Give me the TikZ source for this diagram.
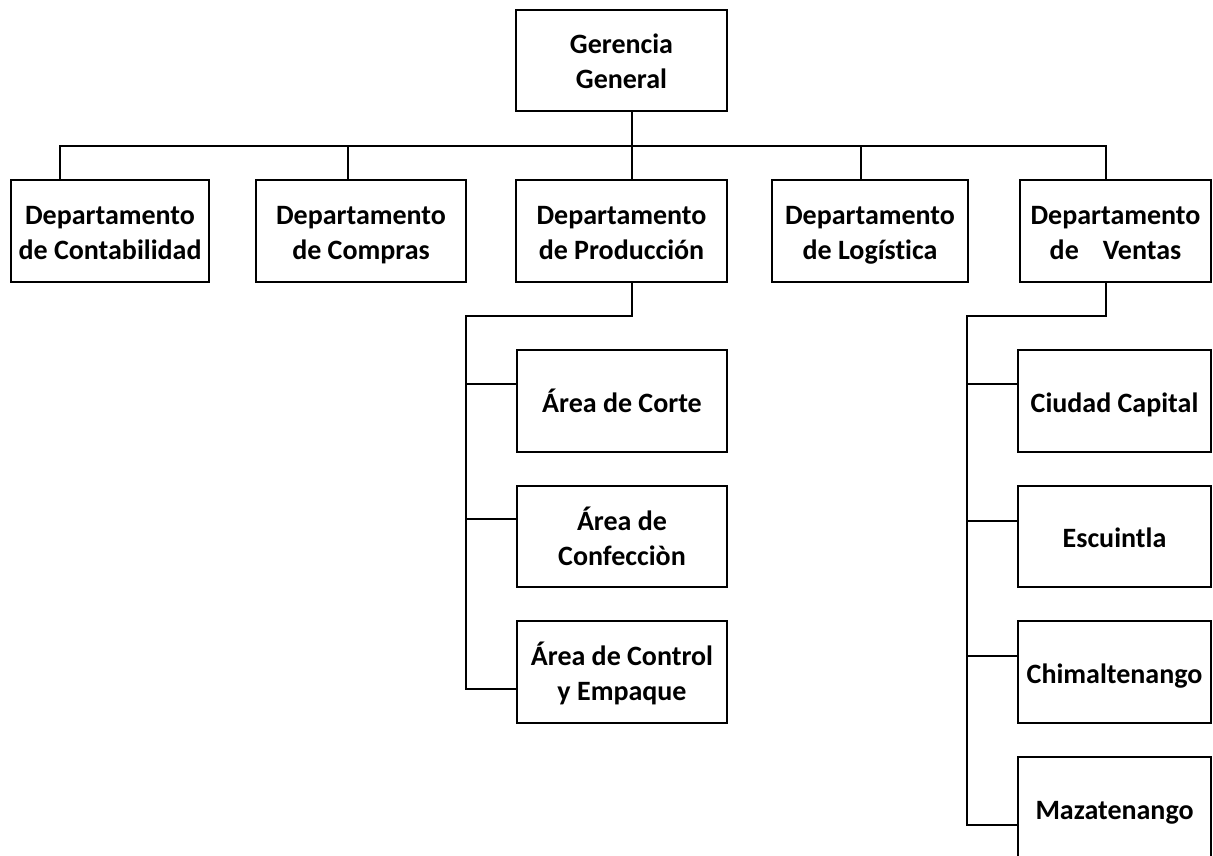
\documentclass[tikz,border=0pt]{standalone}
\usepackage{fontspec}
\setmainfont{Carlito}[Ligatures=CommonOff]
\usetikzlibrary{calc}
\newcommand\orgstrut{\rule[-6.5pt]{0pt}{35pt}}
\tikzset{
    OrgBox/.style={draw=black, line width=2.8pt, inner sep=0pt, align=center,
        font=\fontsize{28}{35}\selectfont\bfseries},
    DeptBox/.style={OrgBox, minimum height=102pt},
    OrgLine/.style={draw=black, line width=2.8pt}
}

\begin{document}
\begin{tikzpicture}[x=1pt, y=-1pt]
    \useasboundingbox (0,0) rectangle (1213,856);
    \clip (0,0) rectangle (1213,856);

    % gerencia
    \node[OrgBox, minimum width=211pt, minimum height=101pt] (gg) at (621.5, 60.5) {Gerencia\orgstrut\\General\orgstrut};

    % departamentos
    \node[DeptBox, minimum width=198pt] (cont) at (110, 231) {Departamento\orgstrut\\de Contabilidad\orgstrut};
    \node[DeptBox, minimum width=210pt] (comp) at (361, 231) {Departamento\orgstrut\\de Compras\orgstrut};
    \node[DeptBox, minimum width=211pt] (prod) at (621.5, 231) {Departamento\orgstrut\\de Producción\orgstrut};
    \node[DeptBox, minimum width=196pt] (logi) at (870, 231) {Departamento\orgstrut\\de Logística\orgstrut};
    \node[DeptBox, minimum width=191pt] (vent) at (1115.5, 231) {Departamento\orgstrut\\de\hspace{24pt}Ventas\orgstrut};

    % areas de produccion
    \node[DeptBox, minimum width=210pt] (corte) at (622, 401) {Área de Corte\orgstrut};
    \node[DeptBox, minimum width=210pt, minimum height=101pt] (confe) at (622, 536.5) {Área de\orgstrut\\Confecciòn\orgstrut};
    \node[DeptBox, minimum width=210pt] (ctrl) at (622, 672) {Área de Control\orgstrut\\y Empaque\orgstrut};

    % zonas de ventas
    \node[DeptBox, minimum width=193pt] (ciud) at (1114.5, 401) {Ciudad Capital\orgstrut};
    \node[DeptBox, minimum width=193pt, minimum height=101pt] (escu) at (1114.5, 536.5) {Escuintla\orgstrut};
    \node[DeptBox, minimum width=193pt] (chim) at (1114.5, 672) {Chimaltenango\orgstrut};
    \node[DeptBox, minimum width=193pt] (maza) at (1114.5, 808) {Mazatenango\orgstrut};

    % lineas de mando
    \coordinate (bus) at (632, 146);
    \draw[OrgLine] ([xshift=10.5pt]gg.south) -- (bus);
    \draw[OrgLine] ([xshift=-50pt]cont.north) |- (bus) -| ([xshift=-9.5pt]vent.north);
    \foreach \n/\dx in {comp/-13, prod/10.5, logi/-9} {
        \draw[OrgLine] ([xshift=\dx pt]\n.north) -- ++(0,-34);
    }

    \coordinate (pbus) at (466, 316);
    \draw[OrgLine] ([xshift=10.5pt]prod.south) |- (pbus) |- ([yshift=-17pt]ctrl.west);
    \draw[OrgLine] ([yshift=17pt]corte.west) -- ++(-51,0);
    \draw[OrgLine] ([yshift=17.5pt]confe.west) -- ++(-51,0);

    \coordinate (vbus) at (967, 316);
    \draw[OrgLine] ([xshift=-9.5pt]vent.south) |- (vbus) |- ([yshift=-17pt]maza.west);
    \draw[OrgLine] ([yshift=17pt]ciud.west) -- ++(-51,0);
    \draw[OrgLine] ([yshift=15.5pt]escu.west) -- ++(-51,0);
    \draw[OrgLine] ([yshift=16pt]chim.west) -- ++(-51,0);
\end{tikzpicture}
\end{document}
